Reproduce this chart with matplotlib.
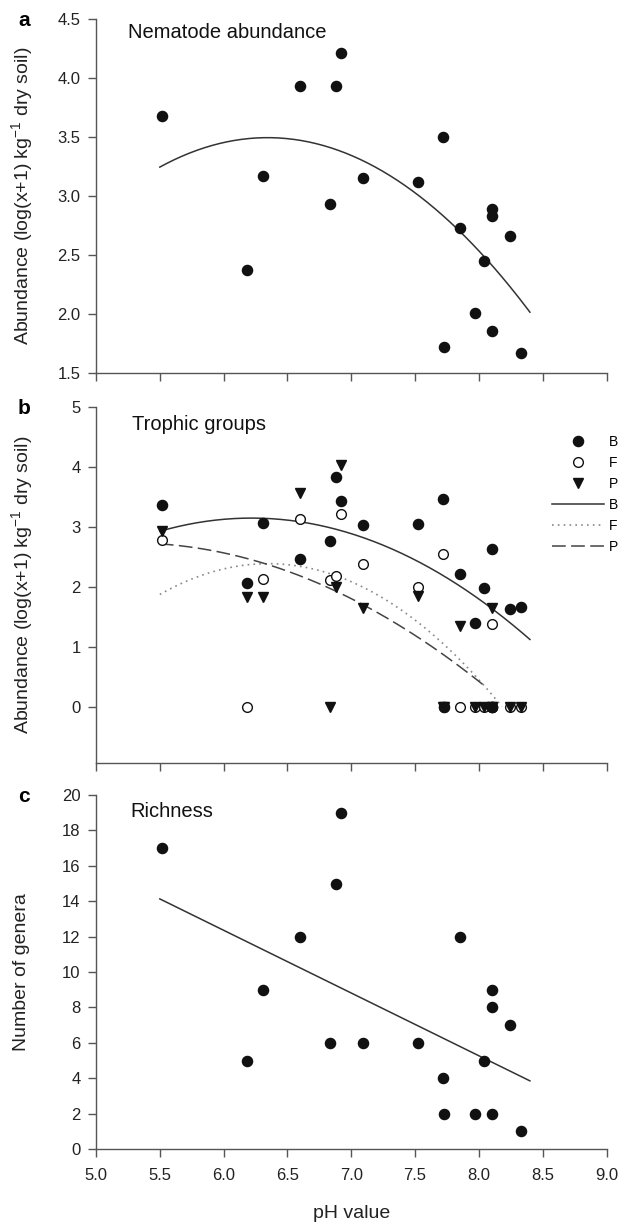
import numpy as np
import matplotlib
matplotlib.use("Agg")
import matplotlib.pyplot as plt

plt.rcParams["font.family"] = ["Liberation Sans", "DejaVu Sans"]
plt.rcParams["mathtext.default"] = "regular"

# pH of the sampling sites (same order in every panel)
ph = [5.52, 6.18, 6.31, 6.60, 6.83, 6.88, 6.92, 7.09, 7.52, 7.72,
      7.73, 7.85, 7.97, 8.04, 8.10, 8.10, 8.10, 8.24, 8.33]

# a: total nematode abundance
abundance = [3.68, 2.37, 3.17, 3.93, 2.93, 3.93, 4.21, 3.15, 3.12, 3.50,
             1.72, 2.73, 2.01, 2.45, 2.89, 2.83, 1.86, 2.66, 1.67]

# b: trophic groups
bacterivores = [3.36, 2.07, 3.06, 2.46, 2.77, 3.84, 3.44, 3.04, 3.05, 3.46,
                0.0, 2.21, 1.41, 1.98, 2.64, 0.0, 0.0, 1.64, 1.67]
fungivores = [2.79, 0.0, 2.14, 3.14, 2.11, 2.19, 3.22, 2.39, 2.00, 2.55,
              0.0, 0.0, 0.0, 0.0, 1.39, 0.0, 0.0, 0.0, 0.0]
plant_parasites = [2.94, 1.83, 1.83, 3.56, 0.0, 2.00, 4.04, 1.65, 1.86, 0.0,
                   0.0, 1.36, 0.0, 0.0, 1.65, 0.0, 0.0, 0.0, 0.0]
# only the first letter of each legend entry is visible in the original
legend_labels = ["B", "F", "P", "B", "F", "P"]

# c: number of genera
richness = [17, 5, 9, 12, 6, 15, 19, 6, 6, 4, 2, 12, 2, 5, 9, 8, 2, 7, 1]

# fitted regressions, coefficients of (pH - 5.5)^0, ^1, ^2 and the pH range drawn
fit_abundance = [3.245, 0.591, -0.35]
fit_bact = [2.93, 0.611, -0.425]
fit_fung = [1.877, 1.207, -0.71]
fit_plant = [2.72, -0.146, -0.308]
fit_richness = [14.13, -3.545]
fit_start = 5.5
end_abundance, end_bact, end_fung, end_plant, end_richness = 8.40, 8.40, 8.18, 8.06, 8.40

x_ticks = [5.0, 5.5, 6.0, 6.5, 7.0, 7.5, 8.0, 8.5, 9.0]
ticks_a = [1.5, 2.0, 2.5, 3.0, 3.5, 4.0, 4.5]
ticks_b = [0, 1, 2, 3, 4, 5]
ticks_c = [0, 2, 4, 6, 8, 10, 12, 14, 16, 18, 20]

W, H = 622, 1223
AX_L, AX_R = 96, 606.5
SPINE = "#555555"
INK = "#111111"
LINE = "#333333"


def add_panel(fig, top, bottom):
    ax = fig.add_axes([AX_L / W, 1 - bottom / H, (AX_R - AX_L) / W, (bottom - top) / H])
    ax.spines[["top", "right"]].set_visible(False)
    for s in ("left", "bottom"):
        ax.spines[s].set_color(SPINE)
        ax.spines[s].set_linewidth(1.0)
    ax.tick_params(direction="out", length=5.5, width=1.0, color=SPINE,
                   labelsize=12, labelcolor="#222222", pad=5.5)
    ax.set_xlim(5.0, 9.0)
    ax.set_xticks(x_ticks)
    return ax


def draw_fit(ax, coefs, x_end, **kw):
    x = np.linspace(fit_start, x_end, 200)
    y = np.polyval(coefs[::-1], x - fit_start)
    return ax.plot(x, y, **kw)[0]


def panel_text(ax, letter, title, title_x, title_y):
    ax.text(title_x, title_y, title, transform=ax.transAxes, fontsize=14.5,
            va="baseline", ha="left", color="#111111")
    ax.annotate(letter, xy=(18 / W, 0.0), xycoords=("figure fraction", "axes fraction"),
                xytext=(18 / W, 1 - 7 / (ax.bbox.height)), textcoords=("figure fraction", "axes fraction"),
                fontsize=15, fontweight="bold", va="baseline", ha="left")


fig = plt.figure(figsize=(W / 100, H / 100), dpi=100)

ax_a = add_panel(fig, 19, 373)
ax_b = add_panel(fig, 407, 763)
ax_c = add_panel(fig, 795, 1149)

# --- a
ax_a.plot(ph, abundance, "o", color=INK, ms=7.3, mec=INK, zorder=3)
draw_fit(ax_a, fit_abundance, end_abundance, color=LINE, lw=1.1, zorder=2)
ax_a.set_ylim(1.5, 4.5)
ax_a.set_yticks(ticks_a)
ax_a.set_yticklabels([f"{t:.1f}" for t in ticks_a])
ax_a.tick_params(labelbottom=False)

# --- b
hb = ax_b.plot(ph, bacterivores, "o", color=INK, mec=INK, ms=7.3, zorder=4)[0]
hf = ax_b.plot(ph, fungivores, "o", mfc="white", mec=INK, mew=1.0, ms=7.0, zorder=3)[0]
hp = ax_b.plot(ph, plant_parasites, "v", color=INK, mec=INK, ms=7.5, zorder=5)[0]
lb = draw_fit(ax_b, fit_bact, end_bact, color=LINE, lw=1.1, zorder=2)
lf = draw_fit(ax_b, fit_fung, end_fung, color="#888888", lw=1.2, ls=(0, (1, 2.5)), zorder=2)
lp = draw_fit(ax_b, fit_plant, end_plant, color="#444444", lw=1.1, ls=(0, (9, 3.5)), zorder=2)
ax_b.set_ylim(-0.93, 5)
ax_b.set_yticks(ticks_b)
ax_b.tick_params(labelbottom=False)
fig.legend([hb, hf, hp, lb, lf, lp], legend_labels,
           loc="upper left", bbox_to_anchor=(551.7 / W, 1 - 435 / H),
           frameon=False, fontsize=10, handlelength=3.8, handletextpad=0.3,
           labelspacing=0.5, borderpad=0, borderaxespad=0)

# --- c
ax_c.plot(ph, richness, "o", color=INK, mec=INK, ms=7.3, zorder=3)
draw_fit(ax_c, fit_richness, end_richness, color=LINE, lw=1.1, zorder=2)
ax_c.set_ylim(0, 20)
ax_c.set_yticks(ticks_c)
ax_c.set_xticklabels([f"{t:.1f}" for t in x_ticks])
ax_c.tick_params(axis="x", pad=8)

panel_text(ax_a, "a", "Nematode abundance", 0.063, 0.945)
panel_text(ax_b, "b", "Trophic groups", 0.07, 0.935)
panel_text(ax_c, "c", "Richness", 0.068, 0.937)

ylab = "Abundance (log(x+1) kg$^{-1}$ dry soil)"
for ax, text in ((ax_a, ylab), (ax_b, ylab), (ax_c, "Number of genera")):
    pos = ax.get_position()
    fig.text(22 / W, pos.y0 + pos.height / 2, text, rotation=90, ha="center", va="center",
             fontsize=14, color="#222222")

fig.text((AX_L + AX_R) / 2 / W, 5 / H, "pH value", ha="center", va="baseline",
         fontsize=14, color="#222222")

fig.savefig("out.png", dpi=100)
